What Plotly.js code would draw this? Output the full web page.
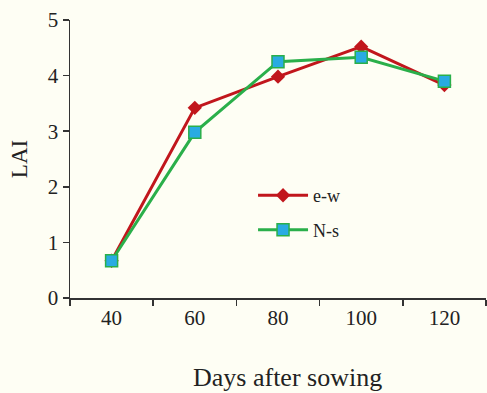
<!DOCTYPE html>
<html>
<head>
<meta charset="utf-8">
<script src="https://cdn.plot.ly/plotly-3.0.1.min.js"></script>
<style>
  html, body { margin: 0; padding: 0; background: #fefef4; }
  #chart { width: 487px; height: 393px; }
</style>
</head>
<body>
<div id="chart"></div>
<script>
// Leaf area index over the growing season for two row orientations
const days = ["40", "60", "80", "100", "120"];
const laiEW = [0.67, 3.42, 3.98, 4.52, 3.83];
const laiNS = [0.67, 2.98, 4.25, 4.33, 3.90];
const yTicks = [0, 1, 2, 3, 4, 5];
const xTitle = "Days after sowing";

const serif = "'Liberation Serif', 'Times New Roman', Times, serif";

const traces = [
  {
    x: days, y: laiEW, name: "e-w", type: "scatter", mode: "lines+markers",
    legendgroup: "ew",
    line: { color: "#c1161c", width: 3 },
    marker: { symbol: "diamond", size: 11, color: "#c1161c" }
  },
  {
    x: days, y: laiNS, name: "N-s", type: "scatter", mode: "lines+markers",
    legendgroup: "ns",
    line: { color: "#2aaf4a", width: 3 },
    marker: { symbol: "square", size: 12, color: "#29abe2", line: { color: "#2aaf4a", width: 1.5 } }
  }
];

const layout = {
  width: 487, height: 393,
  margin: { l: 70, r: 1, t: 20, b: 95 },
  paper_bgcolor: "#fefef4",
  plot_bgcolor: "rgba(0,0,0,0)",
  font: { family: serif, color: "#222", size: 21 },
  showlegend: true,
  legend: {
    x: 0.44, y: 0.435, xanchor: "left", yanchor: "top",
    bgcolor: "rgba(0,0,0,0)",
    font: { family: serif, size: 18, color: "#222" },
    itemwidth: 50, tracegroupgap: 8
  },
  xaxis: {
    type: "category", range: [-0.5, 4.5],
    tickson: "boundaries",
    showline: true, linecolor: "#333", linewidth: 1.5,
    ticks: "outside", ticklen: 6, tickcolor: "#333", tickwidth: 1.5,
    showgrid: false, zeroline: false,
    tickfont: { family: serif, size: 21, color: "#222" }
  },
  yaxis: {
    range: [0, 5], tickvals: yTicks,
    showline: true, linecolor: "#333", linewidth: 1.5,
    ticks: "outside", ticklen: 6, tickcolor: "#333", tickwidth: 1.5,
    showgrid: false, zeroline: false,
    tickfont: { family: serif, size: 21, color: "#222" },
    title: { text: "LAI", font: { family: serif, size: 23, color: "#222" }, standoff: 13 }
  },
  // x-axis title, set a little right of the plot centre
  annotations: [{
    text: xTitle, xref: "paper", yref: "paper",
    x: 0.523, y: -0.285, xanchor: "center", yanchor: "middle",
    showarrow: false,
    font: { family: serif, size: 26, color: "#222" }
  }]
};

Plotly.newPlot("chart", traces, layout, { displayModeBar: false, staticPlot: true });
</script>
</body>
</html>
